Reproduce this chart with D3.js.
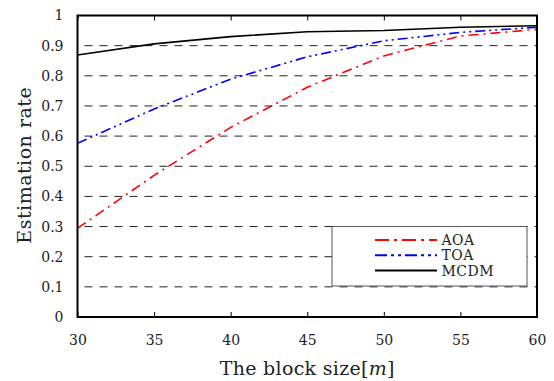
<!DOCTYPE html>
<html>
<head>
<meta charset="utf-8">
<script src="https://cdn.jsdelivr.net/npm/d3@7"></script>
<style>
  body { margin: 0; background: #fff; }
  svg { display: block; font-family: "DejaVu Serif", serif; }
</style>
</head>
<body>
<div id="chart"></div>
<script>
// block size values along x
const blockSizes = [30, 35, 40, 45, 50, 55, 60];
// estimation rate per method
const aoaRates = [0.294, 0.47, 0.629, 0.762, 0.866, 0.932, 0.954];
const toaRates = [0.576, 0.69, 0.789, 0.863, 0.916, 0.944, 0.961];
const mcdmRates = [0.869, 0.906, 0.93, 0.946, 0.95, 0.961, 0.966];
const seriesNames = ["AOA", "TOA", "MCDM"];
const xTicks = [30, 35, 40, 45, 50, 55, 60];
const yTicks = [0, 0.1, 0.2, 0.3, 0.4, 0.5, 0.6, 0.7, 0.8, 0.9, 1];

const width = 554, height = 381;
const margin = { top: 15.5, right: 17, bottom: 64, left: 77.5 };
const innerW = width - margin.left - margin.right;
const innerH = height - margin.top - margin.bottom;

const svg = d3.select("#chart").append("svg")
  .attr("width", width)
  .attr("height", height);

const g = svg.append("g")
  .attr("transform", `translate(${margin.left},${margin.top})`);

const x = d3.scaleLinear().domain([30, 60]).range([0, innerW]);
const y = d3.scaleLinear().domain([0, 1]).range([innerH, 0]);

// dashed horizontal grid
g.append("g")
  .selectAll("line")
  .data(yTicks.filter((d) => d > 0 && d < 1))
  .enter()
  .append("line")
  .attr("x1", 0)
  .attr("x2", innerW)
  .attr("y1", (d) => y(d))
  .attr("y2", (d) => y(d))
  .attr("stroke", "#222")
  .attr("stroke-width", 1)
  .attr("stroke-dasharray", "8,7")
  .attr("stroke-dashoffset", -7);

// axes with inward ticks
const xAxis = g.append("g")
  .attr("transform", `translate(0,${innerH})`)
  .call(d3.axisBottom(x).tickValues(xTicks).tickSizeInner(-5).tickSizeOuter(0).tickPadding(18));
const xTop = g.append("g")
  .call(d3.axisTop(x).tickValues(xTicks).tickSizeInner(-5).tickSizeOuter(0).tickFormat(""));
const yAxis = g.append("g")
  .call(d3.axisLeft(y).tickValues(yTicks).tickSizeInner(0).tickSizeOuter(0).tickPadding(14)
    .tickFormat((d) => (d === 0 || d === 1 ? d3.format("d")(d) : d3.format(".1f")(d))));

[xAxis, xTop, yAxis].forEach((a) => {
  a.select(".domain").remove();
  a.selectAll("line").attr("stroke", "#000");
  a.selectAll("text")
    .attr("font-family", "DejaVu Serif, serif")
    .attr("font-size", 14)
    .attr("fill", "#222");
});

// series lines
const series = [
  { name: seriesNames[0], values: aoaRates, color: "#ff0000", dash: "10,5,2,5" },
  { name: seriesNames[1], values: toaRates, color: "#0000ff", dash: "10,4,2,4,2,4" },
  { name: seriesNames[2], values: mcdmRates, color: "#000000", dash: null },
];

const line = d3.line()
  .x((d, i) => x(blockSizes[i]))
  .y((d) => y(d));

series.forEach((s) => {
  g.append("path")
    .datum(s.values)
    .attr("fill", "none")
    .attr("stroke", s.color)
    .attr("stroke-width", 1.6)
    .attr("stroke-dasharray", s.dash)
    .attr("d", line);
});

// plot frame
g.append("rect")
  .attr("x", 0)
  .attr("y", 0)
  .attr("width", innerW)
  .attr("height", innerH)
  .attr("fill", "none")
  .attr("stroke", "#000")
  .attr("stroke-width", 2);

// legend
const lg = svg.append("g").attr("transform", "translate(332,226.5)");
lg.append("rect")
  .attr("width", 195)
  .attr("height", 59.5)
  .attr("fill", "#fff")
  .attr("stroke", "#555")
  .attr("stroke-width", 1);
series.forEach((s, i) => {
  const yy = 13.5 + i * 15.3;
  lg.append("line")
    .attr("x1", 43)
    .attr("x2", 105)
    .attr("y1", yy)
    .attr("y2", yy)
    .attr("stroke", s.color)
    .attr("stroke-width", 2)
    .attr("stroke-dasharray", s.dash ? (i === 0 ? "14,5,3,5" : "12,4,3,4,3,4") : null);
  lg.append("text")
    .attr("x", 109.5)
    .attr("y", yy + 5)
    .attr("font-size", 14)
    .attr("letter-spacing", 0.5)
    .attr("fill", "#222")
    .text(s.name);
});

// axis titles
svg.append("text")
  .attr("x", margin.left + innerW / 2)
  .attr("y", 375)
  .attr("text-anchor", "middle")
  .attr("font-size", 19)
  .attr("letter-spacing", 0.3)
  .attr("fill", "#222")
  .html('The block size[<tspan font-style="italic">m</tspan>]');

svg.append("text")
  .attr("transform", `translate(31,${margin.top + innerH / 2 - 1}) rotate(-90)`)
  .attr("text-anchor", "middle")
  .attr("font-size", 19)
  .attr("letter-spacing", 0.5)
  .attr("fill", "#222")
  .text("Estimation rate");
</script>
</body>
</html>
